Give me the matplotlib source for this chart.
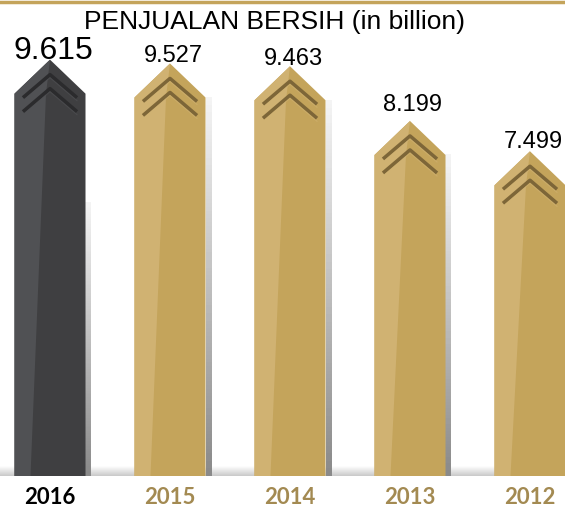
import numpy as np
import matplotlib
matplotlib.use("Agg")
import matplotlib.pyplot as plt
from matplotlib.patches import Polygon
from matplotlib.colors import LinearSegmentedColormap

# data
years = ["2016", "2015", "2014", "2013", "2012"]
sales = [9.615, 9.527, 9.463, 8.199, 7.499]
value_labels = ["9.615", "9.527", "9.463", "8.199", "7.499"]
highlight = [True, False, False, False, False]

# label gap above the tip, px (style only)
label_gap = [1, 1, 1, 10, 3]

# colours
gold_light = "#d0b272"
gold = "#c4a45b"
gold_dark = "#7d6638"
gold_text = "#a38a52"
grey_light = "#505154"
grey = "#3f3f41"
grey_dark = "#2b2b2d"

W, H = 565, 509
fig = plt.figure(figsize=(W / 100, H / 100), dpi=100)
ax = fig.add_axes([0, 0, 1, 1])
ax.set_axis_off()

# axis scale: 120 px per bar slot, ~43.3 px per billion
x_px, y_px = 120.0, 43.3
xlim = (-50 / x_px, 4 + 35 / x_px)
ylim = (-33 / y_px, (H - 33) / y_px)

bar_w = 71 / x_px
tip = 34 / y_px

# bottom shadow band
band = np.linspace(0, 1, 50).reshape(-1, 1)
band_cmap = LinearSegmentedColormap.from_list("b", ["#c9c9c9", "#ffffff"])
ax.imshow(band, extent=[xlim[0], xlim[1], 0, 10 / y_px], aspect="auto",
          cmap=band_cmap, origin="lower", zorder=0)

shadow_cmap = LinearSegmentedColormap.from_list("s", ["#8a8a8a", "#f4f4f4"])

for i, (yr, v) in enumerate(zip(years, sales)):
    hl = highlight[i]
    c_l, c_r, c_d = (grey_light, grey, grey_dark) if hl else (gold_light, gold, gold_dark)
    left, right = i - bar_w / 2, i + bar_w / 2
    shoulder = v - tip

    # side shadow
    s_top = v - 3.3 if hl else shoulder
    grad = np.linspace(0, 1, 100).reshape(-1, 1)
    ax.imshow(grad, extent=[right, right + 6 / x_px, 0, s_top], aspect="auto",
              cmap=shadow_cmap, origin="lower", zorder=1)

    # right face (whole pentagon)
    ax.add_patch(Polygon([(left, 0), (left, shoulder), (i, v), (right, shoulder),
                          (right, 0)], closed=True, color=c_r, lw=0, zorder=2))
    # lighter left face, slanting divider
    ax.add_patch(Polygon([(left, 0), (left, shoulder), (i, v),
                          (i - 4 / x_px, shoulder), (left + 16 / x_px, 0)],
                         closed=True, color=c_l, lw=0, zorder=3))

    # chevrons
    for k in range(2):
        apex = v - (15 + 14 * k) / y_px
        xs = [i - 27 / x_px, i, i + 27 / x_px]
        ys = [apex - 23 / y_px, apex, apex - 23 / y_px]
        ax.plot(xs, ys, color=c_d, lw=2.6, solid_capstyle="butt", zorder=4)
        ax.plot(xs, [y - 3 / y_px for y in ys], color=c_l, lw=0.8, alpha=0.6, zorder=4)

    # value label
    size = 23 if hl else 17
    ax.text(i + 3 / x_px, v + label_gap[i] / y_px, value_labels[i], ha="center",
            va="baseline", fontsize=size, family="Liberation Sans",
            color="black", zorder=5)

    # year label
    ax.text(i, -21 / y_px, yr, ha="center", va="center", fontsize=16,
            family="Lato", fontweight="bold",
            color="black" if hl else gold_text, zorder=5)

# top rule and title
ax.axhline(ylim[1] - 1.5 / y_px, color=gold, lw=2.5, zorder=6)
ax.text(275 / x_px + xlim[0], ylim[1] - 22 / y_px, "PENJUALAN BERSIH (in billion)",
        ha="center", va="center", fontsize=19, family="Liberation Sans", zorder=6)

ax.set_xlim(*xlim)
ax.set_ylim(*ylim)

fig.savefig("out.png", dpi=100)
